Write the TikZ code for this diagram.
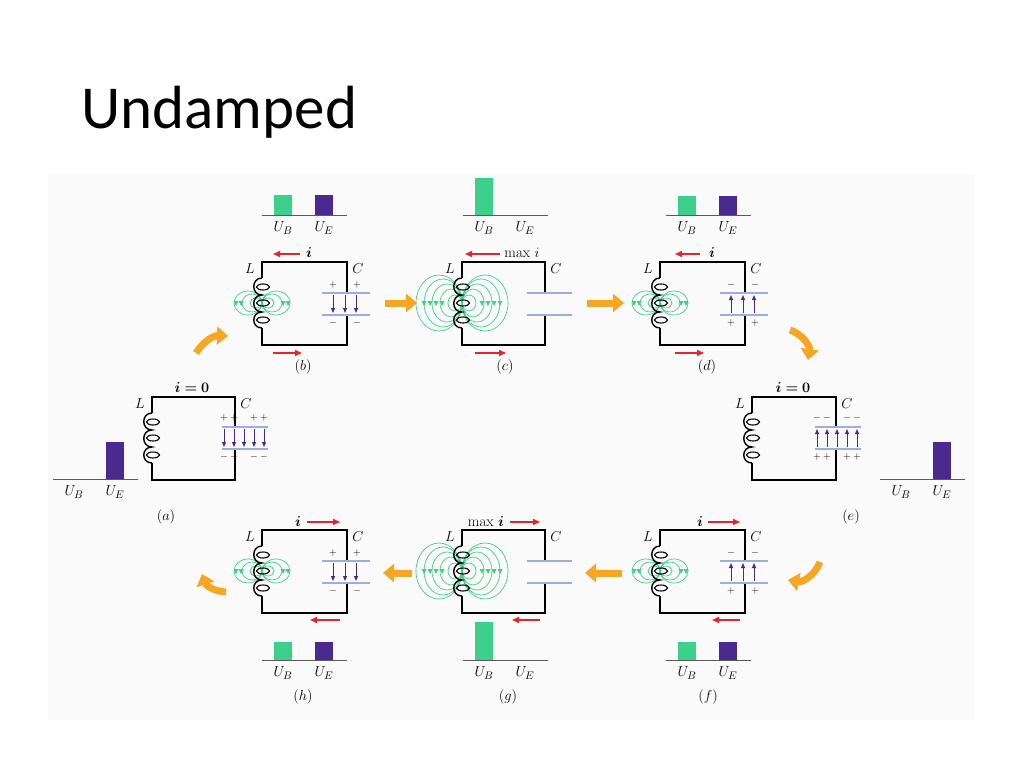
\documentclass[tikz,border=0pt]{standalone}
\usepackage{amsmath,amssymb,bm}
\usepackage{fontspec}
\newfontfamily\titlefont{Carlito}
\usetikzlibrary{arrows.meta}
\definecolor{barg}{HTML}{3DD08A}
\definecolor{barp}{HTML}{4B2A90}
\definecolor{fldg}{HTML}{3FCF8A}
\definecolor{plateb}{HTML}{9AB0D8}
\definecolor{curr}{HTML}{E8242A}
\definecolor{orng}{HTML}{F5A623}
\tikzset{
 wire/.style={line width=1.4pt,black},
 plate/.style={line width=2pt,plateb},
 efield/.style={barp,line width=1pt,-{Triangle[width=4pt,length=5pt]}},
 fl/.style={fldg,line width=0.7pt},
 cur/.style={curr,line width=1.6pt,-{Triangle[width=6pt,length=7pt]}},
 orarrow/.style={orng,line width=7pt,-{Triangle[width=18pt,length=11pt]}},
 lbl/.style={font=\fontsize{15}{17}\selectfont},
 sgn/.style={font=\fontsize{10}{12}\selectfont,inner sep=0pt},
 base/.style={line width=0.9pt,gray!70!black}
}
\newcommand\barsat[4]{%
 \draw[base] (#1,#2) -- ({#1+85},#2);
 \ifdim #3pt>0pt \fill[barg] ({#1+12},#2) rectangle ({#1+30},{#2-#3}); \fi
 \ifdim #4pt>0pt \fill[barp] ({#1+53},#2) rectangle ({#1+71},{#2-#4}); \fi
 \node[lbl] at ({#1+21},{#2+13}) {$U_B$};
 \node[lbl] at ({#1+62},{#2+13}) {$U_E$};}
\newcommand\lcbox[4]{% X Y W name
 \draw[wire] (#1,{#2+16}) -- (#1,#2) -- ({#1+#3},#2) -- ({#1+#3},{#2+30});
 \draw[wire] ({#1+#3},{#2+53}) -- ({#1+#3},{#2+83}) -- (#1,{#2+83}) -- (#1,{#2+66});
 \draw[wire] (#1,{#2+16}) .. controls ({#1-11},{#2+16}) and ({#1-11},{#2+33}) .. (#1,{#2+33})
   .. controls ({#1-11},{#2+33}) and ({#1-11},{#2+50}) .. (#1,{#2+50})
   .. controls ({#1-11},{#2+50}) and ({#1-11},{#2+66}) .. (#1,{#2+66});
 \foreach \yy in {25,41,58} \draw[line width=1.1pt] ({#1+1},{#2+\yy}) ellipse (6.5 and 3);
 \node[lbl] (#4L) at ({#1-12},{#2+7}) {$L$};
 \node[lbl] (#4C) at ({#1+#3+11},{#2+7}) {$C$};}
\newcommand\fieldat[3]{% cx cy big?
 \ifnum#3=1
  \foreach \a/\b in {7/8,11/14,15/19,19/24,23/28}{
   \draw[fl] ({#1-\a},#2) ellipse (\a pt and \b pt);
   \draw[fl] ({#1+\a},#2) ellipse (\a pt and \b pt);}
  \foreach \x in {-38,-32,-26,-20,20,26,32,38} \fill[fldg] ({#1+\x-2.5},{#2-2}) -- ({#1+\x+2.5},{#2-2}) -- ({#1+\x},{#2+3}) -- cycle;
 \else
  \foreach \a/\b in {6/5,10/9,14/12}{
   \draw[fl] ({#1-\a},#2) ellipse (\a pt and \b pt);
   \draw[fl] ({#1+\a},#2) ellipse (\a pt and \b pt);}
  \foreach \x in {-26,-21,21,26} \fill[fldg] ({#1+\x-2.5},{#2-2}) -- ({#1+\x+2.5},{#2-2}) -- ({#1+\x},{#2+3}) -- cycle;
 \fi}
\newcommand\capat[5]{% left right ytop dir(1 down, -1 up) xs
 \draw[plate] (#1,#3) -- (#2,#3);
 \draw[plate] (#1,{#3+22}) -- (#2,{#3+22});
 \ifnum#4=1 \foreach \x in {#5} \draw[efield] (\x,{#3+2}) -- (\x,{#3+20}); \fi
 \ifnum#4=-1 \foreach \x in {#5} \draw[efield] (\x,{#3+20}) -- (\x,{#3+2}); \fi}
\begin{document}
\begin{tikzpicture}[x=1pt,y=-1pt]
\useasboundingbox (0,0) rectangle (1024,768);
\fill[white] (0,0) rectangle (1024,768);
\fill[gray!4] (48,175) rectangle (975,720);
\node[anchor=west,font=\titlefont\fontsize{61}{66}\selectfont] (title) at (78,112) {Undamped};
% bars
\barsat{262}{215}{20}{20}
\barsat{463}{215}{37}{0}
\barsat{666}{215}{19}{19}
\barsat{53}{479}{0}{37}
\barsat{880}{479}{0}{37}
\barsat{262}{660}{18}{18}
\barsat{463}{660}{38}{0}
\barsat{666}{660}{18}{18}
% fields (behind)
\fieldat{262}{303}{0}
\fieldat{462}{303}{1}
\fieldat{660}{303}{0}
\fieldat{262}{571}{0}
\fieldat{462}{571}{1}
\fieldat{660}{571}{0}
% circuits
\lcbox{262}{262}{85}{b}
\lcbox{462}{262}{83}{c}
\lcbox{660}{262}{85}{d}
\lcbox{152}{397}{83}{a}
\lcbox{752}{397}{84}{e}
\lcbox{262}{530}{85}{h}
\lcbox{462}{530}{83}{g}
\lcbox{660}{530}{85}{f}
% capacitors
\capat{322}{370}{293}{1}{333,345,356}
\capat{527}{572}{293}{0}{0}
\capat{720}{768}{293}{-1}{731,743,754}
\capat{222}{268}{427}{1}{224,234,244,254,264}
\capat{815}{861}{427}{-1}{817,827,837,847,857}
\capat{322}{370}{561}{1}{333,345,356}
\capat{527}{572}{561}{0}{0}
\capat{720}{768}{561}{-1}{731,743,754}
\begin{scope}[sgn]
\node at (333,285) {$+$}; \node at (357,285) {$+$};
\node at (333,323) {$-$}; \node at (357,323) {$-$};
\node at (731,285) {$-$}; \node at (755,285) {$-$};
\node at (731,323) {$+$}; \node at (755,323) {$+$};
\node at (333,553) {$+$}; \node at (357,553) {$+$};
\node at (333,591) {$-$}; \node at (357,591) {$-$};
\node at (731,553) {$-$}; \node at (755,553) {$-$};
\node at (731,591) {$+$}; \node at (755,591) {$+$};
\foreach \x in {224,234,254,264}{
 \node at (\x,418) {$+$}; \node at (\x,457) {$-$};}
\foreach \x in {817,827,847,857}{
 \node at (\x,418) {$-$}; \node at (\x,457) {$+$};}
\end{scope}
% currents
\draw[cur] (300,254) -- (273,254); \node[lbl] at (309,253) {$\bm{i}$};
\draw[cur] (273,353) -- (302,353);
\draw[cur] (500,254) -- (465,254); \node[lbl] at (522,253) {max $i$};
\draw[cur] (475,353) -- (506,353);
\draw[cur] (700,254) -- (675,254); \node[lbl] at (712,253) {$\bm{i}$};
\draw[cur] (675,353) -- (704,353);
\node[lbl] at (192,388) {$\bm{i=0}$};
\node[lbl] at (793,388) {$\bm{i=0}$};
\node[lbl] at (298,522) {$\bm{i}$}; \draw[cur] (307,522) -- (340,522);
\draw[cur] (340,620) -- (310,620);
\node[lbl] at (486,522) {max $\bm{i}$}; \draw[cur] (510,522) -- (540,522);
\draw[cur] (540,620) -- (512,620);
\node[lbl] at (700,522) {$\bm{i}$}; \draw[cur] (708,522) -- (740,522);
\draw[cur] (740,620) -- (712,620);
% labels
\begin{scope}[lbl]
\node at (166,517) {$(a)$}; \node at (303,367) {$(b)$}; \node at (505,367) {$(c)$};
\node at (707,367) {$(d)$}; \node at (851,517) {$(e)$}; \node at (303,697) {$(h)$};
\node at (508,697) {$(g)$}; \node at (708,697) {$(f)$};
\end{scope}
% orange arrows
\draw[orarrow] (196,353) to[bend left=30] (228,336);
\draw[orarrow] (385,303) -- (417,303);
\draw[orarrow] (587,303) -- (624,303);
\draw[orarrow] (790,330) to[bend left=40] (808,360);
\draw[orarrow] (820,562) to[bend left=40] (788,580);
\draw[orarrow] (622,573) -- (585,573);
\draw[orarrow] (412,573) -- (383,573);
\draw[orarrow] (226,592) to[bend left=35] (202,574);
\end{tikzpicture}
\end{document}
